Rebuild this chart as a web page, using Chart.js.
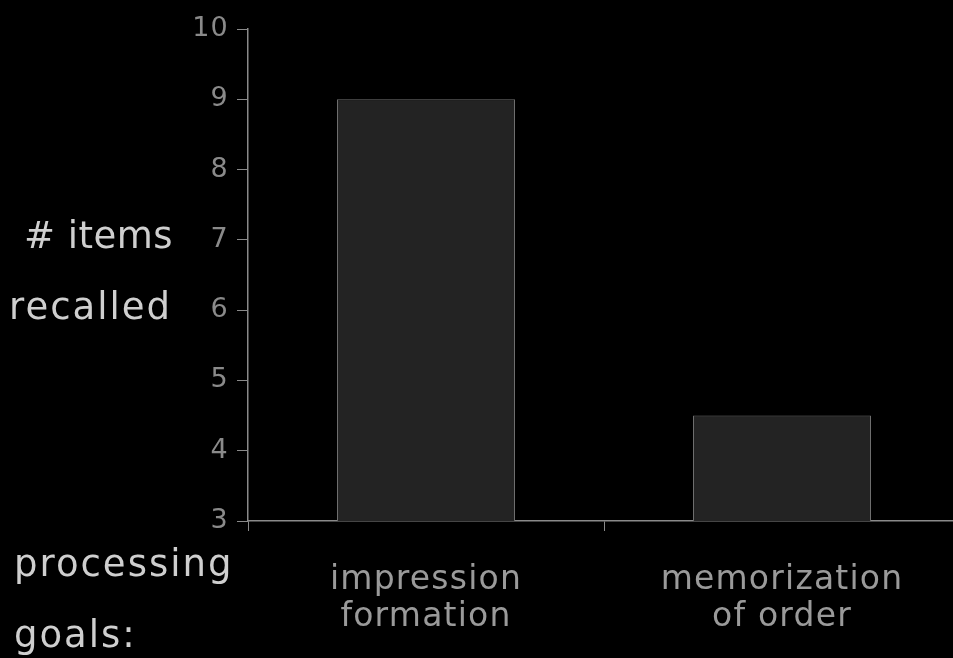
<!DOCTYPE html>
<html>
<head>
<meta charset="utf-8">
<script src="https://cdn.jsdelivr.net/npm/chart.js@4"></script>
<style>
  html, body { margin: 0; padding: 0; background: #000; overflow: hidden; }
  #wrap { position: relative; width: 960px; height: 658px; }
  .lbl { position: absolute; color: #cfcfcf; font-family: "DejaVu Sans", sans-serif; font-size: 37px; letter-spacing: 2px; white-space: nowrap; }
</style>
</head>
<body>
<div id="wrap">
  <canvas id="grafico" width="960" height="658"></canvas>
  <div class="lbl" style="left:24px; top:214px; letter-spacing:0.5px;"># items</div>
  <div class="lbl" style="left:9px; top:285px;">recalled</div>
  <div class="lbl" style="left:14px; top:542px;">processing</div>
  <div class="lbl" style="left:14px; top:613px;">goals:</div>
</div>
<script>
const categorias = [['impression', 'formation'], ['memorization', 'of order']];
const itensLembrados = [9, 4.5];
const eixoMin = 3;
const eixoMax = 10;
const passo = 1;

const corEixo = '#8a8a8a';

// espaçamento entre letras pro texto do canvas
const espacamento = {
  id: 'espacamento',
  beforeDraw(chart) { chart.ctx.letterSpacing = '1.2px'; }
};

new Chart(document.getElementById('grafico'), {
  type: 'bar',
  data: {
    labels: categorias,
    datasets: [{
      data: itensLembrados,
      backgroundColor: '#232323',
      borderColor: '#6e6e6e',
      borderWidth: 1,
      barPercentage: 1,
      categoryPercentage: 0.5
    }]
  },
  options: {
    responsive: false,
    animation: false,
    layout: { padding: { top: 29, right: 0, left: 0, bottom: 0 } },
    plugins: { legend: { display: false }, tooltip: { enabled: false } },
    scales: {
      x: {
        grid: { drawOnChartArea: false, color: corEixo, tickLength: 10 },
        border: { color: corEixo, width: 1.5 },
        ticks: {
          color: '#9a9a9a',
          font: { family: 'DejaVu Sans', size: 33, lineHeight: 1.12 },
          padding: 31,
          maxRotation: 0
        },
        afterFit: s => { s.height = 137; }
      },
      y: {
        min: eixoMin,
        max: eixoMax,
        grid: { drawOnChartArea: false, color: corEixo, tickLength: 11 },
        border: { color: corEixo, width: 1.5 },
        ticks: {
          stepSize: passo,
          color: '#8a8a8a',
          font: { family: 'DejaVu Sans', size: 27 },
          padding: 8
        },
        afterFit: s => { s.width = 248; }
      }
    }
  },
  plugins: [espacamento]
});
</script>
</body>
</html>
